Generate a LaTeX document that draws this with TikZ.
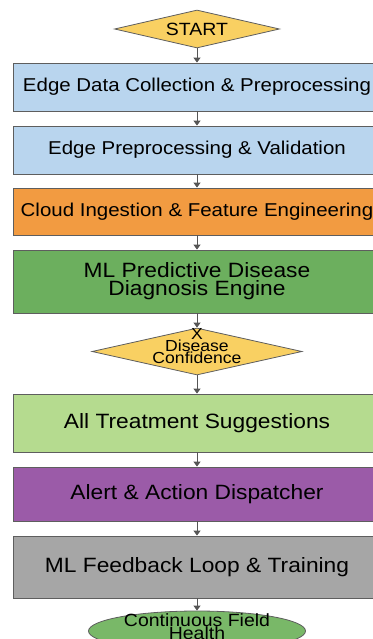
\documentclass[tikz,border=0pt]{standalone}
\usepackage{fontspec}
\setmainfont{Liberation Sans}[FakeStretch=1.1]
\usetikzlibrary{shapes.geometric,arrows.meta}

\definecolor{edgegray}{HTML}{5E5E5E}
\definecolor{arrowgray}{HTML}{555555}
\definecolor{boxblue}{HTML}{B9D5EE}
\definecolor{boxorange}{HTML}{F29B41}
\definecolor{boxgreen}{HTML}{6CAF5E}
\definecolor{diayellow}{HTML}{F9D062}
\definecolor{boxlime}{HTML}{B5DB8F}
\definecolor{boxpurple}{HTML}{9B5BA8}
\definecolor{boxgray}{HTML}{A6A6A6}
\definecolor{endgreen}{HTML}{79B868}

\tikzset{
	flowbox/.style={rectangle, draw=edgegray, line width=0.8pt, minimum width=368pt, inner sep=0pt, align=center, font=\fontsize{18.6}{18}\selectfont},
	bigbox/.style={flowbox, font=\fontsize{20.7}{18}\selectfont},
	decide/.style={diamond, draw=edgegray, line width=0.8pt, fill=diayellow, inner sep=0pt},
	flow/.style={draw=arrowgray, line width=1pt, -{Triangle[length=5pt,width=7pt]}},
}
% tightly stacked lines that must not grow the shape around them
\newcommand{\stacked}[2][0pt]{\smash{\raisebox{#1}{\def\arraystretch{0}\begin{tabular}{@{}c@{}}#2\end{tabular}}}}

\begin{document}
\begin{tikzpicture}[x=1pt, y=-1pt]
	\useasboundingbox (0,0) rectangle (372,639);
	\node[decide, aspect=4.34, minimum width=165pt, minimum height=38pt, font=\fontsize{17.7}{18}\selectfont] (start) at (197,29) {START};
	\node[flowbox, fill=boxblue, minimum height=48pt] (collect) at (197,87) {Edge Data Collection \& Preprocessing};
	\node[flowbox, fill=boxblue, minimum height=48pt] (validate) at (197,150) {Edge Preprocessing \& Validation};
	\node[flowbox, fill=boxorange, minimum height=47pt] (ingest) at (197,211.5) {Cloud Ingestion \& Feature Engineering};
	\node[bigbox, fill=boxgreen, minimum height=63pt] (engine) at (197,281.5) {ML Predictive Disease\\Diagnosis Engine};
	\node[decide, aspect=4.47, minimum width=210pt, minimum height=47pt, font=\fontsize{16}{12}\selectfont] (conf) at (197,351.5) {\stacked[1pt]{X\\Disease\\Confidence}};
	\node[bigbox, fill=boxlime, minimum height=58pt] (treat) at (197,423) {All Treatment Suggestions};
	\node[bigbox, fill=boxpurple, minimum height=54pt] (alert) at (197,494) {Alert \& Action Dispatcher};
	\node[bigbox, fill=boxgray, minimum height=62pt] (loop) at (197,567) {ML Feedback Loop \& Training};
	\node[ellipse, draw=edgegray, fill=endgreen, line width=0.8pt, minimum width=217pt, minimum height=40pt, inner sep=0pt, font=\fontsize{17.7}{13}\selectfont] (health) at (197,631) {\stacked{Continuous Field\\Health}};

	\draw[flow] (start) -- (collect);
	\draw[flow] (collect) -- (validate);
	\draw[flow] (validate) -- (ingest);
	\draw[flow] (ingest) -- (engine);
	\draw[flow] (engine) -- (conf);
	\draw[flow] (conf) -- (treat);
	\draw[flow] (treat) -- (alert);
	\draw[flow] (alert) -- (loop);
	\draw[flow] (loop) -- (health);
\end{tikzpicture}
\end{document}
